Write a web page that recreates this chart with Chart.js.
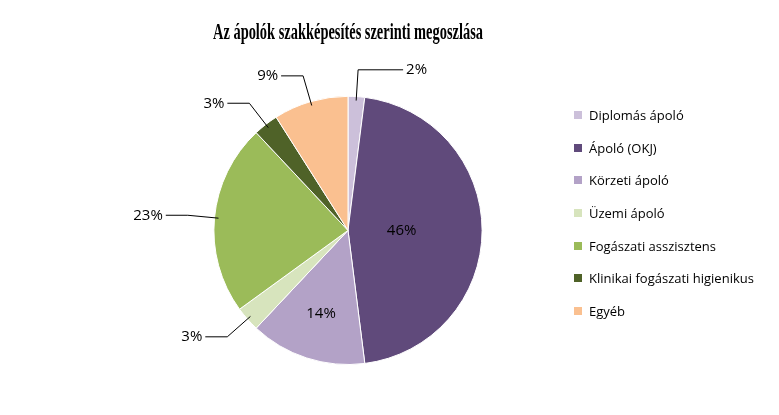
<!DOCTYPE html>
<html><head><meta charset="utf-8">
<script src="https://cdn.jsdelivr.net/npm/chart.js@4"></script>
<style>
body{margin:0;background:#fff;}
#wrap{position:relative;width:779px;height:415px;}
#legend{position:absolute;left:574px;top:104px;font-family:"Open Sans",sans-serif;font-size:13px;color:#000;}
#legend div{height:32.7px;display:flex;align-items:flex-start;line-height:22px;}
#legend span.b{display:inline-block;width:8px;height:8px;margin:7px 7px 0 0;}
</style></head>
<body><div id="wrap"><canvas id="c" width="779" height="415"></canvas><div id="legend"></div></div>
<script>
const categories=["Diplomás ápoló","Ápoló (OKJ)","Körzeti ápoló","Üzemi ápoló","Fogászati asszisztens","Klinikai fogászati higienikus","Egyéb"];
const values=[2,46,14,3,23,3,9];
const colors=["#ccc0da","#604a7b","#b3a2c7","#d7e4bd","#9bbb59","#4f6228","#fac090"];
const inside=[false,true,true,false,false,false,false];
const lg=document.getElementById('legend');
categories.forEach((c,i)=>{const d=document.createElement('div');d.innerHTML='<span class="b" style="background:'+colors[i]+'"></span>'+c;lg.appendChild(d);});
const labelPlugin={id:'lbl',afterDatasetsDraw(chart){
 const ctx=chart.ctx;const meta=chart.getDatasetMeta(0);
 ctx.save();ctx.font='15px "Open Sans", sans-serif';ctx.fillStyle='#000';ctx.strokeStyle='#000';ctx.lineWidth=1;ctx.textBaseline='middle';
 meta.data.forEach((a,i)=>{
  const m=(a.startAngle+a.endAngle)/2,r=a.outerRadius,cx=a.x,cy=a.y,t=values[i]+'%';
  const cs=Math.cos(m),sn=Math.sin(m);
  if(inside[i]){const f=i===1?0.4:0.65;ctx.textAlign='center';ctx.fillText(t,cx+cs*r*f,cy+sn*r*f);return;}
  const x1=cx+cs*r*0.97,y1=cy+sn*r*0.97,x2=cx+cs*r*1.2,y2=cy+sn*r*1.2;
  const dir=cs>=0?1:-1;const x3=x2+dir*(i===0?45:22);
  ctx.beginPath();ctx.moveTo(x1,y1);ctx.lineTo(x2,y2);ctx.lineTo(x3,y2);ctx.stroke();
  ctx.textAlign=dir>0?'left':'right';ctx.fillText(t,x3+dir*3,y2);
 });ctx.restore();}};
new Chart(document.getElementById('c'),{type:'pie',
 data:{labels:categories,datasets:[{data:values,backgroundColor:colors,borderColor:'#fff',borderWidth:1}]},
 options:{responsive:false,animation:false,
  layout:{padding:{left:213,right:296,top:0,bottom:50}},
  plugins:{legend:{display:false},tooltip:{enabled:false},
   title:{display:true,text:'Az ápolók szakképesítés szerinti megoszlása',color:'#000',
    font:{family:'Liberation Serif',size:24,weight:'bold'},padding:{top:18,bottom:49}}}},
 plugins:[labelPlugin]});
</script></body></html>
